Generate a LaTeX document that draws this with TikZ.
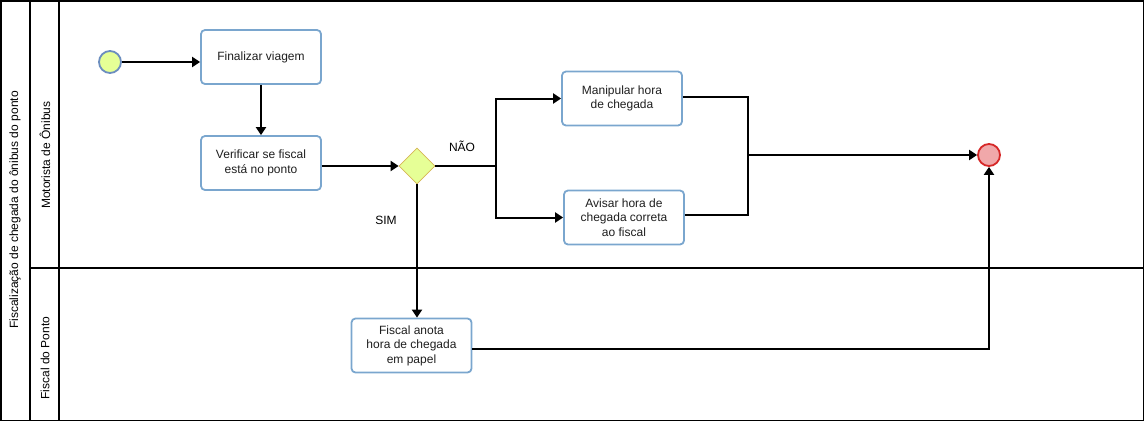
\documentclass[tikz,border=0pt]{standalone}
\usepackage{fontspec}
\setmainfont{Liberation Sans}
\usepackage{xcolor}
\usetikzlibrary{arrows.meta,shapes.geometric}
\definecolor{taskline}{RGB}{122,166,206}
\definecolor{startfill}{RGB}{230,255,150}
\definecolor{startline}{RGB}{108,142,191}
\definecolor{gateline}{RGB}{214,182,86}
\definecolor{endfill}{RGB}{240,168,170}
\definecolor{endline}{RGB}{214,40,40}
\definecolor{textgray}{RGB}{30,30,30}

\begin{document}
\begin{tikzpicture}[x=1pt,y=-1pt,
 font=\fontsize{12}{14.5}\selectfont,
 task/.style={draw=taskline,line width=1.8pt,rounded corners=4pt,
  minimum width=120pt,minimum height=54pt,inner sep=2pt,
  align=center,text=textgray},
 flow/.style={line width=2pt,-{Triangle[length=8pt,width=10pt]}},
 plain/.style={line width=2pt},
 lane/.style={line width=1.5pt}]
 \useasboundingbox (0,0) rectangle (1144,421);
 % pool and lanes
 \draw[lane] (0.75,0.75) rectangle (1143.25,420.25);
 \draw[lane] (30,0) -- (30,421);
 \draw[lane] (59,0) -- (59,421);
 \draw[lane] (30,268) -- (1144,268);
 \node[rotate=90] (pool) at (15,210) {Fiscalização de chegada do ônibus do ponto};
 \node[rotate=90] (driver) at (45,155) {Motorista de Ônibus};
 \node[rotate=90] (officer) at (45,358) {Fiscal do Ponto};
 % events, tasks and gateway
 \node[circle,draw=startline,fill=startfill,line width=1.8pt,
  minimum size=22pt,inner sep=0pt] (start) at (110,62) {};
 \node[task] (finish) at (261,57) {Finalizar viagem};
 \node[task] (check) at (261,163) {Verificar se fiscal\\está no ponto};
 \node[diamond,draw=gateline,fill=startfill,line width=0.8pt,
  minimum width=36pt,minimum height=36pt,inner sep=0pt] (gate) at (417,166) {};
 \node[task] (manip) at (622,98.5) {Manipular hora\\de chegada};
 \node[task] (warn) at (624,217.5) {Avisar hora de\\chegada correta\\ao fiscal};
 \node[task] (note) at (411.5,345.5) {Fiscal anota\\hora de chegada\\em papel};
 \node[circle,draw=endline,fill=endfill,line width=1.8pt,
  minimum size=22pt,inner sep=0pt] (end) at (989,155) {};
 % connectors
 \coordinate (split) at (496,166);
 \coordinate (join) at (748,155);
 \draw[flow] (start) -- (start -| finish.west);
 \draw[flow] (finish) -- (check);
 \draw[flow] (check.east |- gate) -- (gate);
 \draw[plain] (gate) -- (split);
 \draw[flow] (split) |- (manip);
 \draw[flow] (split) |- (warn);
 \draw[plain] ([yshift=1.5pt]manip.east) -| (join);
 \draw[plain] ([yshift=2.5pt]warn.east) -| (join);
 \draw[flow] (join) -- (end);
 \draw[flow] (gate) -- (gate |- note.north);
 \draw[flow] ([yshift=-3.5pt]note.east) -| (end);
 \node (no) at (462,146) {NÃO};
 \node (yes) at (386,220) {SIM};
\end{tikzpicture}
\end{document}
